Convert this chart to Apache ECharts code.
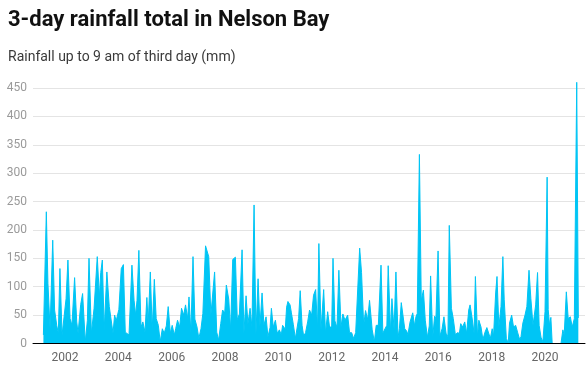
<!DOCTYPE html>
<html>
<head>
<meta charset="utf-8">
<script src="https://cdn.jsdelivr.net/npm/echarts@6/dist/echarts.min.js"></script>
<style>
html,body{margin:0;padding:0;background:#fff;}
#chart{width:587px;height:365px;}
</style>
</head>
<body>
<div id="chart"></div>
<script>
// Decimal-year positions of the readings
const years = [
2001.19,2001.30,2001.36,2001.44,2001.54,2001.61,2001.69,2001.75,2001.81,2001.89,2001.96,
2002.04,2002.11,2002.19,2002.26,2002.36,2002.44,2002.49,2002.59,2002.66,2002.76,2002.84,2002.90,2002.99,
2003.09,2003.21,2003.29,2003.34,2003.40,2003.47,2003.57,2003.66,2003.72,2003.80,2003.86,2003.92,
2004.02,2004.11,2004.19,2004.26,2004.32,2004.40,2004.51,2004.59,2004.65,2004.70,2004.77,2004.85,2004.92,
2005.00,2005.07,2005.12,2005.20,2005.27,2005.35,2005.42,2005.50,2005.57,2005.65,2005.72,2005.80,2005.87,2005.95,
2006.02,2006.10,2006.15,2006.22,2006.30,2006.37,2006.45,2006.52,2006.60,2006.65,2006.72,2006.80,2006.87,2006.95,
2007.02,2007.10,2007.17,2007.27,2007.39,2007.47,2007.61,2007.69,2007.76,2007.84,2007.91,2007.99,
2008.05,2008.14,2008.21,2008.29,2008.39,2008.46,2008.54,2008.64,2008.71,2008.79,2008.86,2008.94,
2009.01,2009.09,2009.16,2009.24,2009.31,2009.39,2009.46,2009.54,2009.61,2009.69,2009.74,2009.81,2009.89,2009.96,
2010.04,2010.11,2010.16,2010.26,2010.31,2010.36,2010.44,2010.49,2010.56,2010.64,2010.71,2010.76,2010.82,2010.89,2010.95,
2011.02,2011.10,2011.17,2011.25,2011.32,2011.40,2011.47,2011.52,2011.60,2011.70,2011.77,2011.85,2011.92,
2012.00,2012.05,2012.12,2012.20,2012.27,2012.35,2012.42,2012.50,2012.60,2012.67,2012.75,2012.82,2012.90,2012.97,
2013.05,2013.12,2013.20,2013.27,2013.35,2013.42,2013.52,2013.60,2013.67,2013.75,2013.85,2013.92,
2014.00,2014.07,2014.12,2014.21,2014.26,2014.34,2014.41,2014.49,2014.54,2014.61,2014.66,2014.74,2014.81,2014.86,2014.94,
2015.04,2015.11,2015.16,2015.21,2015.29,2015.36,2015.44,2015.51,2015.59,2015.66,2015.71,2015.79,2015.86,2015.91,2015.99,
2016.06,2016.14,2016.21,2016.29,2016.36,2016.41,2016.49,2016.56,2016.64,2016.71,2016.79,2016.84,2016.91,2016.99,
2017.06,2017.14,2017.19,2017.26,2017.34,2017.39,2017.47,2017.52,2017.60,2017.67,2017.75,2017.82,2017.87,2017.95,
2018.02,2018.07,2018.15,2018.20,2018.27,2018.35,2018.42,2018.47,2018.55,2018.62,2018.67,2018.75,2018.82,2018.90,2018.97,
2019.05,2019.10,2019.17,2019.25,2019.32,2019.40,2019.47,2019.55,2019.60,2019.65,2019.72,2019.78,2019.85,2019.92,
2020.00,2020.08,2020.12,2020.17,2020.22,2020.27,2020.60,2020.67,2020.72,2020.80,2020.87,2020.95,
2021.02,2021.10,2021.19,2021.25
];

// 3-day rainfall totals (mm)
const rain = [
15,232,106,26,182,59,32,18,132,15,12,
79,147,44,32,116,38,18,69,88,3,41,150,18,
62,153,82,125,147,24,126,65,64,18,50,40,
60,132,139,20,20,15,138,76,50,76,164,29,38,
20,81,35,126,24,113,44,32,3,26,18,31,65,18,
32,15,26,41,29,62,50,68,44,82,18,153,43,29,
9,26,53,172,153,50,126,20,6,35,59,54,
103,78,24,148,152,42,52,165,18,84,35,62,
29,244,16,114,31,89,32,47,12,28,62,29,41,18,
24,15,32,25,64,74,68,54,34,9,12,44,93,32,13,
19,38,59,50,85,95,25,176,24,95,18,56,29,
29,150,40,28,129,29,52,41,50,19,19,9,19,20,
168,125,32,58,42,76,24,3,32,32,138,18,
26,32,137,18,79,25,126,11,26,72,69,26,22,16,38,
54,31,47,53,333,76,94,41,11,31,119,11,48,44,163,
13,26,47,18,12,208,62,44,15,19,18,35,29,38,
18,59,68,47,18,118,12,41,29,7,20,28,28,9,
26,13,89,118,29,65,153,78,9,1,36,50,29,32,20,
7,12,36,50,65,129,79,32,50,68,125,32,11,3,
56,293,60,32,46,0,0,24,15,91,44,47,
29,44,460,45
];

const yTicks = [0, 50, 100, 150, 200, 250, 300, 350, 400, 450];
const xTickYears = [2002, 2004, 2006, 2008, 2010, 2012, 2014, 2016, 2018, 2020];

const chart = echarts.init(document.getElementById('chart'), null, {renderer: 'canvas'});
chart.setOption({
  animation: false,
  backgroundColor: '#ffffff',
  textStyle: {fontFamily: 'Roboto'},
  title: {
    text: '3-day rainfall total in Nelson Bay',
    subtext: 'Rainfall up to 9 am of third day (mm)',
    left: 3,
    top: 4,
    itemGap: 19,
    textStyle: {fontFamily: 'Roboto', fontWeight: 'bold', fontSize: 22, color: '#111'},
    subtextStyle: {fontFamily: 'Roboto', fontSize: 14, color: '#3a3a3a'}
  },
  grid: {left: 33, right: 2, top: 88, bottom: 21.5, containLabel: false},
  xAxis: {
    type: 'value',
    min: 2000.8,
    max: 2021.5,
    z: 5,
    axisLine: {show: true, onZero: false, lineStyle: {color: '#000', width: 1}},
    axisTick: {show: false},
    splitLine: {show: false},
    axisLabel: {
      customValues: xTickYears,
      formatter: v => String(Math.round(v)),
      color: '#666', fontSize: 12, margin: 8, fontFamily: 'Roboto'
    }
  },
  yAxis: {
    type: 'value',
    min: yTicks[0],
    max: yTicks[yTicks.length - 1],
    interval: 50,
    axisLine: {show: false},
    axisTick: {show: false},
    splitLine: {lineStyle: {color: '#e4e4e4', width: 1}},
    axisLabel: {color: '#9a9a9a', fontSize: 12, margin: 6, fontFamily: 'Roboto'}
  },
  series: [{
    type: 'line',
    data: years.map((y, i) => [y, rain[i]]),
    showSymbol: false,
    symbol: 'none',
    clip: false,
    lineStyle: {color: '#00c5f5', width: 1},
    areaStyle: {color: '#00c5f5', opacity: 1},
    z: 2
  }]
});
</script>
</body>
</html>
